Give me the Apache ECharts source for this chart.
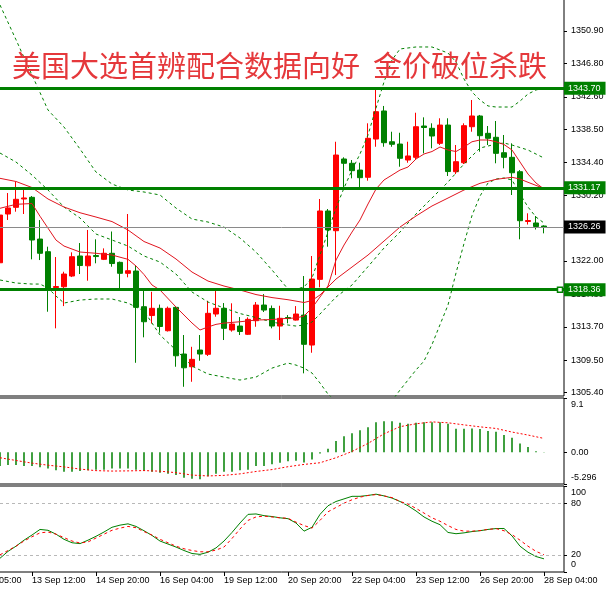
<!DOCTYPE html>
<html><head><meta charset="utf-8">
<script src="https://cdn.jsdelivr.net/npm/echarts@6/dist/echarts.min.js"></script>
<style>html,body{margin:0;padding:0;background:#fff}#c{width:606px;height:589px}</style>
</head><body><div id="c"></div>
<script>
const titleText = '美国大选首辨配合数据向好  金价破位杀跌';
const timeLabels = ['12 Sep 05:00','13 Sep 12:00','14 Sep 20:00','16 Sep 04:00','19 Sep 12:00','20 Sep 20:00','22 Sep 04:00','23 Sep 12:00','26 Sep 20:00','28 Sep 04:00'];
const priceTicks = [1350.90,1346.80,1342.60,1338.50,1334.40,1330.20,1322.00,1317.80,1313.70,1309.50,1305.40];
const keyLevels = [1343.70,1331.17,1318.36];
const lastPrice = 1326.26;
const macdTicks = [9.1,0,-5.296];
const macdTickText = ['\n9.1','0.00','-5.296\n'];
const stochInnerTicks = [80,20];
const stochEdgeTicks = [100,0];
const stochEdgeText = ['\n100','0\n'];
const stochLevels = [80,20];

const opens = [1321.75,1327.88,1328.72,1329.77,1329.98,1324.73,1323.14,1318.63,1318.73,1320.08,
1322.6,1321.37,1322.66,1322.18,1322.94,1321.8,1320.42,1320.71,1316.22,1315.11,
1316.02,1313.2,1316.14,1310.27,1308.67,1310.77,1310.23,1315.3,1316.02,1313.29,
1313.79,1312.75,1314.46,1316.43,1316.0,1313.79,1314.86,1314.54,1315.17,1311.4,
1319.66,1328.26,1325.78,1334.8,1334.26,1333.41,1332.5,1337.31,1340.84,1336.97,
1336.68,1334.67,1335.01,1338.95,1338.66,1336.77,1339.07,1333.2,1334.33,1338.86,
1340.21,1338.03,1337.53,1335.59,1335.01,1333.2,1326.94,1326.75,1326.37];
const highs = [1330.27,1330.52,1331.94,1331.19,1330.14,1327.12,1323.77,1322.47,1320.62,1323.06,
1324.23,1325.87,1324.7,1323.56,1325.68,1321.9,1327.88,1321.46,1318.53,1318.1,
1316.49,1316.24,1316.3,1312.66,1311.18,1312.66,1316.97,1318.32,1316.68,1316.65,
1314.92,1314.88,1316.81,1317.81,1316.37,1316.34,1315.17,1316.3,1320.08,1322.6,
1329.77,1328.51,1336.97,1335.01,1334.67,1334.33,1339.29,1343.82,1341.47,1338.23,
1338.1,1336.97,1340.62,1340.04,1339.29,1339.92,1339.92,1336.56,1339.29,1342.22,
1340.34,1338.95,1339.58,1337.82,1336.77,1333.41,1327.97,1327.63,1326.46];
const lows = [1320.46,1327.13,1328.17,1327.88,1322.18,1322.09,1315.59,1313.5,1316.3,1319.95,
1320.33,1319.49,1321.68,1322.09,1321.25,1318.41,1319.92,1309.17,1312.37,1314.1,
1312.95,1313.1,1308.67,1306.15,1306.78,1309.42,1310.02,1314.96,1312.03,1313.08,
1312.66,1312.66,1313.7,1315.55,1313.5,1312.03,1314.13,1314.48,1307.84,1310.43,
1318.66,1323.77,1320.2,1331.24,1332.37,1331.24,1332.07,1336.34,1336.34,1336.34,
1333.83,1334.33,1334.76,1335.51,1336.14,1336.56,1332.66,1332.91,1334.17,1338.23,
1335.72,1336.56,1334.26,1333.63,1330.27,1324.7,1326.56,1325.93,1325.45];
const closes = [1327.75,1328.64,1329.73,1329.9,1324.61,1322.94,1318.41,1318.76,1320.33,1322.51,
1321.4,1322.6,1322.53,1322.94,1321.65,1320.42,1320.75,1316.14,1314.33,1316.02,
1313.73,1316.02,1310.05,1308.54,1309.6,1310.27,1315.39,1316.02,1313.5,1314.04,
1313.1,1314.63,1316.43,1315.8,1313.79,1314.76,1314.73,1315.3,1311.49,1319.7,
1328.26,1325.87,1335.3,1334.26,1333.33,1332.45,1337.4,1340.75,1336.85,1336.65,
1334.89,1335.18,1338.86,1338.76,1337.69,1339.07,1333.22,1334.46,1338.99,1340.21,
1337.73,1337.4,1335.51,1335.01,1333.07,1327.04,1327.06,1326.31,1326.26];

// [bar index, value]
const maFast = [[0,1328.6],[2,1329.1],[4,1329.2],[5,1327.6],[6,1326.1],[7,1324.6],[8,1323.85],[10,1323.1],[12,1322.94],[14,1322.72],[16,1322.18],[17,1321.34],[18,1320.27],[19,1318.95],[20,1318.32],[22,1316.18],[24,1314.17],[25,1313.29],[26,1313.67],[27,1314.0],[28,1314.16],[30,1314.33],[32,1314.54],[34,1314.61],[36,1314.76],[37,1314.8],[38,1315.05],[39,1316.06],[40,1317.44],[41,1318.82],[42,1322.09],[43,1323.98],[44,1325.61],[45,1327.13],[46,1329.14],[47,1331.02],[48,1332.16],[49,1332.78],[50,1333.41],[51,1333.79],[52,1334.8],[53,1335.43],[54,1335.74],[55,1336.31],[56,1335.93],[57,1335.74],[58,1336.31],[59,1336.97],[60,1337.19],[61,1337.19],[62,1336.97],[63,1336.62],[64,1335.93],[65,1334.42],[66,1332.91],[67,1331.78],[68,1331.02]];
const maSlow = [[0,1332.37],[2,1331.97],[4,1331.21],[6,1329.77],[8,1328.76],[10,1328.04],[12,1327.5],[14,1326.93],[16,1325.87],[18,1324.42],[20,1323.6],[22,1322.22],[24,1320.58],[26,1319.45],[28,1318.82],[30,1318.32],[32,1317.75],[34,1317.37],[36,1317.1],[38,1316.75],[39,1317.0],[40,1317.7],[41,1318.7],[42,1319.7],[44,1321.21],[46,1322.72],[48,1324.48],[50,1326.24],[52,1327.63],[54,1328.89],[56,1329.89],[58,1330.9],[60,1331.74],[62,1332.24],[64,1332.5],[65,1332.28],[66,1331.87],[68,1331.09]];
const bbUpper = [[0,1354.17],[2,1349.8],[4,1345.36],[6,1340.96],[8,1338.82],[10,1336.06],[12,1333.16],[14,1331.65],[16,1330.9],[18,1330.65],[20,1330.27],[22,1328.63],[24,1327.25],[26,1326.87],[28,1326.24],[30,1324.86],[32,1323.1],[34,1320.84],[36,1318.44],[37,1318.44],[38,1318.7],[39,1319.83],[40,1322.72],[41,1325.61],[42,1328.63],[43,1331.15],[44,1333.41],[45,1335.43],[46,1337.82],[47,1341.21],[48,1344.48],[49,1347.25],[50,1348.64],[52,1348.89],[54,1348.89],[56,1348.13],[57,1347.0],[58,1344.86],[59,1343.23],[60,1342.22],[61,1341.47],[62,1341.34],[64,1341.34],[65,1342.09],[66,1342.97],[67,1343.48],[68,1343.73]];
const bbMiddle = [[0,1335.55],[2,1334.42],[4,1332.78],[6,1330.9],[8,1328.76],[10,1327.38],[12,1325.36],[14,1324.61],[16,1323.85],[18,1322.6],[20,1321.84],[22,1320.33],[24,1318.07],[26,1316.81],[28,1316.06],[30,1315.36],[32,1314.86],[34,1314.29],[36,1313.92],[37,1313.79],[38,1313.92],[39,1314.29],[40,1315.3],[42,1317.44],[44,1318.95],[46,1321.26],[48,1323.6],[50,1325.61],[51,1326.75],[52,1327.88],[54,1329.89],[56,1331.9],[58,1334.17],[60,1336.18],[62,1336.68],[63,1336.81],[64,1336.56],[66,1335.93],[68,1334.92]];
const bbLower = [[0,1319.58],[2,1319.2],[4,1319.07],[5,1319.07],[6,1318.57],[7,1317.56],[8,1316.68],[10,1317.06],[12,1317.19],[14,1317.19],[16,1316.68],[18,1315.68],[20,1312.66],[22,1310.77],[24,1308.76],[26,1307.75],[28,1307.37],[30,1307.0],[32,1307.37],[34,1308.5],[36,1309.13],[37,1308.88],[38,1308.5],[39,1307.88],[40,1306.62],[41,1305.23],[42,1304.3],[43,1304.0],[44,1303.7],[45,1303.6],[46,1303.5],[47,1303.4],[48,1303.6],[49,1304.4],[50,1305.74],[51,1307.0],[52,1308.26],[53,1309.39],[54,1311.46],[55,1313.96],[56,1316.43],[57,1320.46],[58,1324.17],[59,1327.69],[60,1330.14],[61,1331.78],[62,1332.28],[63,1332.41],[64,1332.16],[65,1330.4],[66,1328.76],[67,1327.5],[68,1326.75]];

const macdHist = [-2.3,-2.1,-2.1,-2.3,-2.3,-2.5,-2.7,-3.0,-3.25,-3.25,
-3.1,-3.0,-2.9,-2.9,-2.7,-2.7,-2.7,-2.9,-3.1,-3.25,
-3.4,-3.6,-3.8,-4.25,-4.4,-4.5,-4.0,-3.6,-3.25,-3.25,
-3.0,-2.9,-2.3,-2.3,-2.0,-1.75,-1.5,-1.4,-1.7,-1.2,
-0.2,0.6,1.9,2.7,3.2,3.7,4.2,5.06,5.2,5.2,
4.95,4.8,4.95,5.06,5.06,5.06,4.8,3.95,3.95,4.0,
3.9,3.56,3.45,2.9,2.45,1.5,0.9,0.2,0.05];
const macdSignal = [[0,-0.9],[2,-1.36],[4,-1.8],[6,-2.15],[8,-2.43],[10,-2.8],[12,-3.06],[14,-3.13],[16,-3.1],[18,-3.05],[20,-3.15],[22,-3.4],[24,-3.8],[26,-3.95],[28,-3.85],[30,-3.6],[32,-3.2],[34,-2.88],[36,-2.4],[38,-2.02],[40,-1.74],[42,-0.9],[44,0.15],[46,1.5],[48,3.1],[50,4.3],[52,4.78],[54,5.1],[56,4.95],[58,4.6],[60,4.27],[62,4.0],[64,3.4],[66,2.9],[68,2.33]];

const stochMain = [16,24,30,37,43,49.5,48.5,44,38,34,33,37,41.5,46.5,52,54.5,56,53,48,42.5,
36,32.5,29,25,21.5,20.5,23,28,36,46,57,67,67.5,65.5,64.5,63,62,57,47.5,52,
67,77,82,85,88,88,89,90.5,88.5,86,82,77,71,64,59,55,46,44.5,45.5,47,
48,49.5,50.5,50.6,42,30,23,18,15.3];
const stochSignal = [20,25,30,36,41,45.5,46.5,44,40,36,33.7,35,39.5,44,48.5,51,53,51.5,47,43,
38,34,30,27,25,23.5,23.5,25.5,29,39,50,60,64,65,64,63,62.5,58,54,51,
60,70,75,80,84,87,89,90,88.5,86.5,82,79,74,68.5,63,59,54,49.5,47.5,47.5,
48.2,49.5,50.5,48,43.5,37,30,24,20];

// ---- build ----
const OFF = 4, NCAT = 75;
const RED = '#ff0000', GREEN = '#008000', MARED = '#e0141e';
const FONT = 'Liberation Sans';
const cats = Array.from({length: NCAT}, (_, k) => 'c' + k);
const candleData = cats.map((_, k) => {
  const i = k - OFF;
  if (i < 0 || i >= opens.length) return ['-', '-', '-', '-'];
  return [opens[i], closes[i], lows[i], highs[i]];
});
const full = arr => cats.map((_, k) => { const i = k - OFF; return (i >= 0 && i < arr.length) ? arr[i] : '-'; });
const pairs = arr => arr.map(p => [p[0] + OFF, p[1]]);
const fullPairs = arr => arr.map((v, i) => [i + OFF, v]);
const nearestText = (ticks, texts) => v => {
  let best = 0;
  ticks.forEach((t, j) => { if (Math.abs(t - v) < Math.abs(ticks[best] - v)) best = j; });
  return texts[best];
};

const gridBase = {left: -36, right: 42, show: true, borderColor: '#000', borderWidth: 1,
  backgroundColor: '#fff', containLabel: false, outerBoundsMode: 'none'};
const labelBox = (bg) => ({
  show: true, position: 'end', distance: 0, color: '#fff', backgroundColor: bg,
  fontSize: 9, fontFamily: FONT, padding: [2, 5, 1, 4], lineHeight: 10
});

const lineS = (data, color, type, x, y, extra) => Object.assign({
  type: 'line', xAxisIndex: x, yAxisIndex: y, data: data, showSymbol: false, symbol: 'none',
  lineStyle: {color: color, width: 1, type: type}, silent: true, clip: true, z: 3
}, extra || {});

const yLabel = (ticks, fmt, extra) => Object.assign({
  customValues: ticks, formatter: fmt, fontSize: 9, fontFamily: FONT, color: '#000', margin: 7,
  showMinLabel: true, showMaxLabel: true, hideOverlap: false
}, extra || {});
const yAx = (grid, min, max, ticks, fmt, extra) => ({
  type: 'value', gridIndex: grid, position: 'right', min: min, max: max,
  axisLine: {show: false},
  axisTick: {show: true, customValues: ticks, length: 3, lineStyle: {color: '#000'}},
  axisLabel: yLabel(ticks, fmt, extra),
  splitLine: {show: false}
});

const option = {
  animation: false,
  backgroundColor: '#fff',
  grid: [
    Object.assign({}, gridBase, {top: -2, height: 398}),
    Object.assign({}, gridBase, {top: 398, height: 86}),
    Object.assign({}, gridBase, {top: 486, height: 86})
  ],
  xAxis: [0, 1, 2].map(g => ({
    type: 'category', gridIndex: g, data: cats, boundaryGap: true,
    axisLine: {show: false},
    axisTick: {show: g === 2, alignWithLabel: true, interval: (i) => i % 8 === 0, length: 4, lineStyle: {color: '#000'}},
    axisLabel: {show: g === 2, interval: (i) => i % 8 === 0, formatter: (v, i) => timeLabels[i / 8] || '',
      align: 'left', fontSize: 9, fontFamily: FONT, color: '#000', margin: 4, showMinLabel: true, showMaxLabel: true},
    splitLine: {show: false}
  })),
  yAxis: [
    yAx(0, 1304.99, 1355.05, priceTicks, v => v.toFixed(2)),
    yAx(1, -5.296, 9.1, macdTicks, nearestText(macdTicks, macdTickText), {lineHeight: 13}),
    yAx(2, 0, 100, stochInnerTicks, v => String(v)),
    yAx(2, 0, 100, stochEdgeTicks, nearestText(stochEdgeTicks, stochEdgeText), {lineHeight: 14})
  ],
  graphic: [{
    type: 'text', left: 12, top: 51, z: 100, silent: true,
    style: {text: titleText, fill: '#e5383b', fontSize: 29, fontFamily: 'Noto Sans CJK SC', fontWeight: 'normal'}
  }],
  series: [
    {type: 'candlestick', xAxisIndex: 0, yAxisIndex: 0, data: candleData, barWidth: 5, silent: true, z: 2,
     itemStyle: {color: RED, color0: GREEN, borderColor: RED, borderColor0: GREEN, borderWidth: 1},
     markLine: {
       silent: true, symbol: ['none', 'none'], animation: false, z: 4,
       data: keyLevels.map(v => ({yAxis: v, lineStyle: {color: GREEN, width: 3, type: 'solid'},
                                  label: Object.assign(labelBox(GREEN), {formatter: v.toFixed(2)})}))
         .concat([{yAxis: lastPrice, lineStyle: {color: '#8a8a8a', width: 1, type: 'solid'},
                   label: Object.assign(labelBox('#000'), {formatter: lastPrice.toFixed(2)})}])
     },
     markPoint: {
       silent: true, animation: false, symbol: 'rect', symbolSize: 5, label: {show: false},
       itemStyle: {color: '#fff', borderColor: GREEN, borderWidth: 1.5},
       data: [{coord: [cats[NCAT - 1], keyLevels[2]]}]
     }},
    lineS(pairs(bbUpper), GREEN, [3, 3], 0, 0),
    lineS(pairs(bbMiddle), GREEN, [3, 3], 0, 0),
    lineS(pairs(bbLower), GREEN, [3, 3], 0, 0),
    lineS(pairs(maSlow), MARED, 'solid', 0, 0),
    lineS(pairs(maFast), MARED, 'solid', 0, 0),
    {type: 'bar', xAxisIndex: 1, yAxisIndex: 1, data: full(macdHist), barWidth: 1.5, silent: true,
     itemStyle: {color: GREEN}},
    lineS(pairs(macdSignal), RED, [2, 2], 1, 1),
    lineS(fullPairs(stochMain), GREEN, 'solid', 2, 2, {
      markLine: {silent: true, symbol: ['none', 'none'], label: {show: false},
                 lineStyle: {color: '#b8b8b8', width: 1, type: [3, 3]},
                 data: stochLevels.map(v => ({yAxis: v}))}
    }),
    lineS(fullPairs(stochSignal), RED, [3, 3], 2, 2)
  ]
};
const chart = echarts.init(document.getElementById('c'));
chart.setOption(option);
</script>
</body></html>
